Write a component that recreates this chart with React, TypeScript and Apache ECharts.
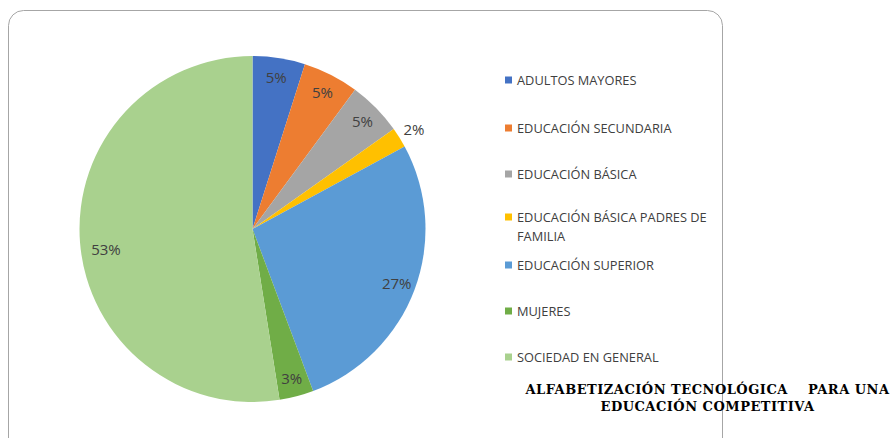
import React, { useEffect, useRef } from "react";
import * as echarts from "echarts";

const categories = [
  "ADULTOS MAYORES",
  "EDUCACIÓN SECUNDARIA",
  "EDUCACIÓN BÁSICA",
  "EDUCACIÓN BÁSICA PADRES DE FAMILIA",
  "EDUCACIÓN SUPERIOR",
  "MUJERES",
  "SOCIEDAD EN GENERAL",
];
const values = [4.9, 5.2, 5.1, 1.9, 27.2, 3.2, 52.5];
const colors = ["#4472C4", "#ED7D31", "#A5A5A5", "#FFC000", "#5B9BD5", "#70AD47", "#A9D18E"];
const outsideLabelIndex = 3;
const titleLines = ["ALFABETIZACIÓN TECNOLÓGICA    PARA UNA", "EDUCACIÓN COMPETITIVA"];

// legend layout (centre of each item's first text line)
const legendCenters = [80, 128, 174, 217, 265, 311, 357];

export default function App() {
  const ref = useRef<HTMLDivElement>(null);
  useEffect(() => {
    if (!ref.current) return;
    const chart = echarts.init(ref.current, undefined, { renderer: "svg" });
    const center = [252.5, 229];
    const labelFmt = (p: any) => Math.round(p.percent) + "%";
    const labelStyle = {
      color: "#404040",
      fontFamily: "Open Sans",
      fontSize: 15,
    };
    const legendText = { fontFamily: "Open Sans", fontSize: 12.8, color: "#404040", lineHeight: 19 };
    const legends = categories.map((name, i) => {
      const multi = name.length > 28;
      return {
        data: [{ name }],
        left: 505,
        top: legendCenters[i] - (multi ? 28.5 : 9.5),
        padding: 0,
        itemWidth: 7,
        itemHeight: 7,
        itemGap: 0,
        icon: "rect",
        selectedMode: false,
        textStyle: legendText,
        formatter: (n: string) =>
          n.length > 28 ? "\u00a0\n" + n.replace(" FAMILIA", "\nFAMILIA") : n,
      };
    });
    chart.setOption({
      animation: false,
      color: colors,
      legend: legends,
      graphic: [
        {
          type: "rect",
          z: -10,
          shape: { x: 8.5, y: 10.5, width: 714, height: 480, r: 15 },
          style: { fill: "none", stroke: "#a6a6a6", lineWidth: 1 },
        },
      ],
      series: [
        {
          type: "pie",
          center,
          radius: [0, 173],
          startAngle: 90,
          clockwise: true,
          label: { show: false },
          labelLine: { show: false },
          emphasis: { disabled: true },
          data: categories.map((name, i) => ({ name, value: values[i] })),
        },
        {
          type: "pie",
          center,
          radius: [129, 173],
          startAngle: 90,
          silent: true,
          legendHoverLink: false,
          itemStyle: { color: "transparent" },
          label: { show: true, position: "inside", formatter: labelFmt, ...labelStyle },
          labelLine: { show: false },
          data: categories.map((name, i) => ({
            name,
            value: values[i],
            label: {
              show: i !== outsideLabelIndex,
              ...(i === 6 ? { offset: [7, 8] } : {}),
            },
          })),
        },
        {
          type: "pie",
          center,
          radius: [176, 198],
          startAngle: 90,
          silent: true,
          legendHoverLink: false,
          itemStyle: { color: "transparent" },
          label: { show: true, position: "inside", formatter: labelFmt, ...labelStyle },
          labelLine: { show: false },
          data: categories.map((name, i) => ({
            name,
            value: values[i],
            label: { show: i === outsideLabelIndex },
          })),
        },
      ],
    });
    return () => chart.dispose();
  }, []);
  return (
    <div style={{ position: "absolute", left: 0, top: 0, width: 891, height: 438, overflow: "hidden" }}>
      <div ref={ref} style={{ position: "absolute", left: 0, top: 0, width: 891, height: 438 }} />
      <div
        style={{
          position: "absolute",
          left: 507.5,
          width: 400,
          top: 381,
          textAlign: "center",
          font: 'bold 13px "DejaVu Serif"',
          letterSpacing: "0.5px",
          lineHeight: "17px",
          whiteSpace: "pre",
          color: "#000",
        }}
      >
        {titleLines.map((t, i) => (
          <div key={i}>{t}</div>
        ))}
      </div>
    </div>
  );
}
